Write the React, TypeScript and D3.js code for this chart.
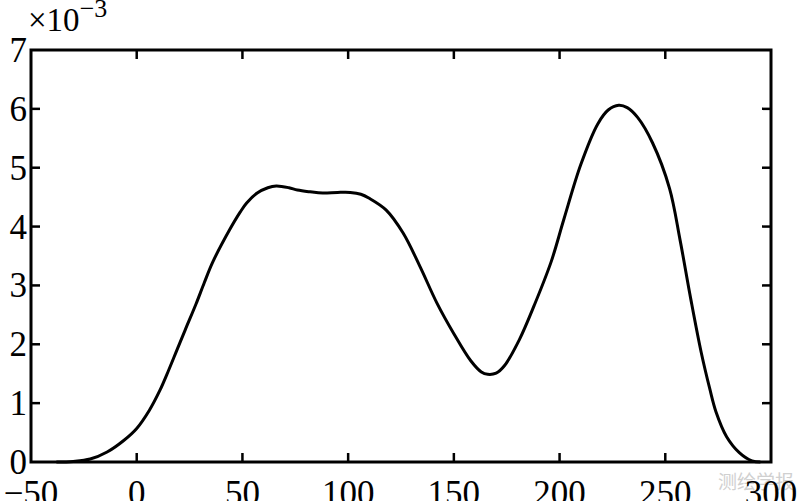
import React, { useEffect, useRef } from "react";
import * as d3 from "d3";

// curve (x, density in 1e-3)
const xValues = [-38, -30, -22, -14, -6, 0, 6, 11, 15, 19, 23, 28, 32, 36, 44, 49, 52, 57, 62, 66, 72, 76, 82, 88, 95, 101, 106, 110, 118, 126, 134, 142, 150, 158, 163, 166, 170, 174, 181, 188, 196, 202, 210, 218, 223, 228, 232, 237, 244, 252, 257, 262, 267, 271, 274, 279, 285, 291, 295];
const yValues = [0, 0.01, 0.05, 0.17, 0.37, 0.57, 0.88, 1.22, 1.55, 1.9, 2.25, 2.68, 3.05, 3.4, 3.95, 4.25, 4.4, 4.57, 4.66, 4.69, 4.66, 4.62, 4.59, 4.57, 4.58, 4.58, 4.55, 4.48, 4.28, 3.89, 3.32, 2.7, 2.18, 1.72, 1.53, 1.49, 1.51, 1.64, 2.08, 2.66, 3.4, 4.12, 5.05, 5.74, 5.98, 6.06, 6.02, 5.85, 5.42, 4.65, 3.77, 2.78, 1.86, 1.25, 0.85, 0.43, 0.16, 0.02, 0];

const xTicks = [-50, 0, 50, 100, 150, 200, 250, 300];
const yTicks = [0, 1, 2, 3, 4, 5, 6, 7];

const W = 800;
const H = 501;
const margin = { top: 50, right: 29, bottom: 39, left: 31 };

export default function App() {
  const ref = useRef<SVGSVGElement>(null);

  useEffect(() => {
    const svg = d3.select(ref.current);
    svg.selectAll("*").remove();

    const x = d3.scaleLinear().domain([-50, 300]).range([margin.left, W - margin.right]);
    const y = d3.scaleLinear().domain([0, 7]).range([H - margin.bottom, margin.top]);
    const font = "'Liberation Serif', 'Times New Roman', serif";
    const tickLen = 9;

    // watermark sits behind everything
    svg.append("text")
      .attr("x", 718)
      .attr("y", 489)
      .attr("font-family", "'Noto Sans CJK SC', sans-serif")
      .attr("font-size", 19)
      .attr("fill", "#d0d0d0")
      .text("测绘学报");

    // ticks, all pointing inwards, on all four sides
    const g = svg.append("g").attr("stroke", "#000").attr("stroke-width", 2.5);
    xTicks.slice(1, -1).forEach(t => {
      g.append("line").attr("x1", x(t)).attr("x2", x(t)).attr("y1", y(0)).attr("y2", y(0) - tickLen);
      g.append("line").attr("x1", x(t)).attr("x2", x(t)).attr("y1", y(7)).attr("y2", y(7) + tickLen);
    });
    yTicks.slice(1, -1).forEach(t => {
      g.append("line").attr("x1", x(-50)).attr("x2", x(-50) + tickLen).attr("y1", y(t)).attr("y2", y(t));
      g.append("line").attr("x1", x(300)).attr("x2", x(300) - tickLen).attr("y1", y(t)).attr("y2", y(t));
    });

    const line = d3.line<number>()
      .x((_, i) => x(xValues[i]))
      .y(d => y(d))
      .curve(d3.curveCatmullRom.alpha(0.5));

    svg.append("path")
      .datum(yValues)
      .attr("d", line)
      .attr("fill", "none")
      .attr("stroke", "#000")
      .attr("stroke-width", 3);

    // box
    svg.append("rect")
      .attr("x", x(-50))
      .attr("y", y(7))
      .attr("width", x(300) - x(-50))
      .attr("height", y(0) - y(7))
      .attr("fill", "none")
      .attr("stroke", "#000")
      .attr("stroke-width", 3);

    svg.append("g").selectAll("text")
      .data(xTicks).enter()
      .append("text")
      .attr("x", d => x(d))
      .attr("y", H + 4)
      .attr("text-anchor", "middle")
      .attr("font-family", font)
      .attr("font-size", 35)
      .text(d => (d < 0 ? "\u2212" + Math.abs(d) : String(d)));

    svg.append("g").selectAll("text")
      .data(yTicks).enter()
      .append("text")
      .attr("x", 27)
      .attr("y", d => y(d) + 12)
      .attr("text-anchor", "end")
      .attr("font-family", font)
      .attr("font-size", 35)
      .text(d => String(d));

    // exponent label
    const exp = svg.append("text")
      .attr("x", 28)
      .attr("y", 31)
      .attr("font-family", font)
      .attr("font-size", 33);
    exp.append("tspan").text("\u00d710");
    exp.append("tspan").attr("dy", -14).attr("font-size", 26).text("\u22123");
  }, []);

  return (
    <svg ref={ref} width={W} height={H} style={{ position: "absolute", left: 0, top: 0, background: "#fff" }} />
  );
}
